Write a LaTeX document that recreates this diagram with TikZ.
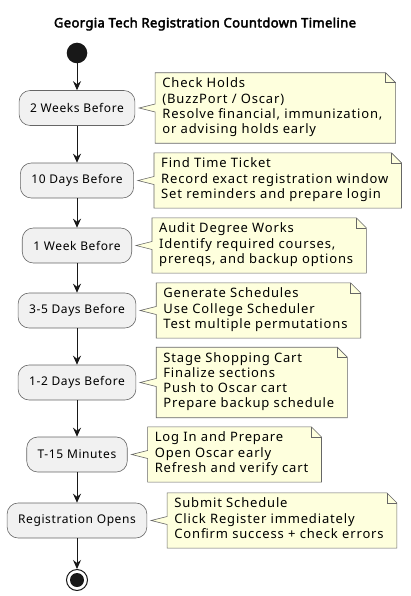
\documentclass[tikz,border=0pt]{standalone}
\usepackage{fontspec}
\setmainfont{Noto Sans}
\newfontfamily\stagefont{Noto Sans}[LetterSpace=5]
\newfontfamily\memofont{Noto Sans}[LetterSpace=6.5]
\newfontfamily\titlefont{Noto Sans}[FakeBold=3, LetterSpace=3]
\usepackage{xcolor}
\usetikzlibrary{arrows.meta, positioning, backgrounds}

\definecolor{boxgray}{HTML}{F1F1F1}
\definecolor{memoyellow}{HTML}{FEFFDD}
\definecolor{linedark}{HTML}{181818}

% yellow note behind a text node, with folded corner and pointer to its box
\newcommand{\memoback}[2]{%
  \begin{scope}[on background layer]
    \filldraw[memoline] ([xshift=-4pt]#1.north east) -- (#1.north west)
      -- ([yshift=4pt]#1.west) -- ([xshift=4pt]#2.east) -- ([yshift=-4pt]#1.west)
      -- (#1.south west) -- ([xshift=6pt]#1.south east)
      -- ([xshift=6pt,yshift=-10pt]#1.north east) -- cycle;
    \draw[memoline, fill=none] ([xshift=-4pt]#1.north east) |- ([xshift=6pt,yshift=-10pt]#1.north east);
  \end{scope}}

\begin{document}
\begin{tikzpicture}[
  x=1pt, y=-1pt,
  titletext/.style={font=\fontsize{13}{15}\selectfont\titlefont, inner sep=0pt},
  stagebox/.style={
    rectangle, rounded corners=11pt,
    draw=black!60, line width=0.6pt, fill=boxgray,
    minimum height=35pt, inner xsep=11pt, inner ysep=0pt,
    font=\fontsize{12}{14}\selectfont\stagefont,
  },
  memo/.style={
    align=left, inner xsep=7pt, inner ysep=5pt,
    font=\fontsize{13}{15.2}\selectfont\memofont,
    execute at begin node=\strut, execute at end node=\strut,
  },
  memoline/.style={draw=black!60, line width=0.6pt, fill=memoyellow},
  startdot/.style={circle, fill=linedark, minimum size=20.6pt, inner sep=0pt},
  enddot/.style={circle, draw=linedark, line width=1pt, minimum size=21pt, inner sep=0pt,
    path picture={\fill[linedark] (path picture bounding box.center) circle (7pt);}},
  flow/.style={-{Stealth[length=9pt, width=8pt, inset=3pt]}, line width=1pt, draw=linedark},
]
  \useasboundingbox (0,0) rectangle (410,596);

  \node[titletext] (ttl) at (205,24) {Georgia Tech Registration Countdown Timeline};

  \node[startdot] (s0) at (77,53) {};
  \node[stagebox] (b1) at (77,108) {2 Weeks Before};
  \node[stagebox] (b2) at (77,180.5) {10 Days Before};
  \node[stagebox] (b3) at (77,245.5) {1 Week Before};
  \node[stagebox] (b4) at (77,310.5) {3-5 Days Before};
  \node[stagebox] (b5) at (77,382.5) {1-2 Days Before};
  \node[stagebox] (b6) at (77,454.5) {T-15 Minutes};
  \node[stagebox] (b7) at (77,520.5) {Registration Opens};
  \node[enddot] (s9) at (77,580) {};

  \node[memo, right=20pt of b1] (n1) {Check Holds\\(BuzzPort / Oscar)\\Resolve financial, immunization,\\or advising holds early};
  \node[memo, right=20pt of b2] (n2) {Find Time Ticket\\Record exact registration window\\Set reminders and prepare login};
  \node[memo, right=20pt of b3] (n3) {Audit Degree Works\\Identify required courses,\\prereqs, and backup options};
  \node[memo, right=20pt of b4] (n4) {Generate Schedules\\Use College Scheduler\\Test multiple permutations};
  \node[memo, right=20pt of b5] (n5) {Stage Shopping Cart\\Finalize sections\\Push to Oscar cart\\Prepare backup schedule};
  \node[memo, right=20pt of b6] (n6) {Log In and Prepare\\Open Oscar early\\Refresh and verify cart};
  \node[memo, right=20pt of b7] (n7) {Submit Schedule\\Click Register immediately\\Confirm success + check errors};

  \memoback{n1}{b1}
  \memoback{n2}{b2}
  \memoback{n3}{b3}
  \memoback{n4}{b4}
  \memoback{n5}{b5}
  \memoback{n6}{b6}
  \memoback{n7}{b7}

  \draw[flow] (s0) -- (b1);
  \draw[flow] (b1) -- (b2);
  \draw[flow] (b2) -- (b3);
  \draw[flow] (b3) -- (b4);
  \draw[flow] (b4) -- (b5);
  \draw[flow] (b5) -- (b6);
  \draw[flow] (b6) -- (b7);
  \draw[flow] (b7) -- (s9);
\end{tikzpicture}
\end{document}
